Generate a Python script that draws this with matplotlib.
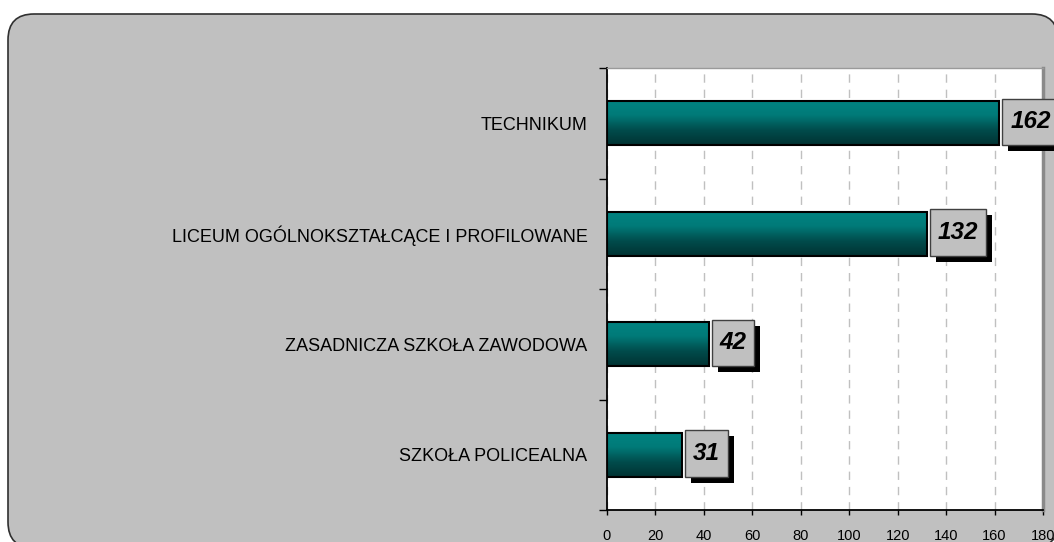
import matplotlib
matplotlib.use("Agg")
import matplotlib.pyplot as plt
import matplotlib.patheffects as pe
import numpy as np
from matplotlib.patches import FancyBboxPatch
from matplotlib.path import Path
from matplotlib.colors import LinearSegmentedColormap

plt.rcParams['font.family'] = ['Liberation Sans', 'DejaVu Sans']

# data (top to bottom as in the chart)
schools = ["TECHNIKUM",
           "LICEUM OGÓLNOKSZTAŁCĄCE I PROFILOWANE",
           "ZASADNICZA SZKOŁA ZAWODOWA",
           "SZKOŁA POLICEALNA"]
counts = [162, 132, 42, 31]
x_ticks = list(range(0, 181, 20))


def label_box(x0, y0, width, height, mutation_size):
    # plain rectangle, wider vertical padding than horizontal
    px = 0.32 * mutation_size
    py = 0.48 * mutation_size
    x0, y0 = x0 - px, y0 - py
    x1, y1 = x0 + width + 2 * px, y0 + height + 2 * py
    return Path([(x0, y0), (x1, y0), (x1, y1), (x0, y1), (x0, y0)],
                closed=True)


fig = plt.figure(figsize=(10.54, 5.42), dpi=100)
fig.patch.set_facecolor("white")

# rounded grey panel behind the chart
panel = FancyBboxPatch((0.08, -0.06), 10.50, 5.34,
                       boxstyle="round,pad=0,rounding_size=0.26",
                       transform=fig.dpi_scale_trans,
                       facecolor="#C0C0C0", edgecolor="#303030",
                       linewidth=1.2, zorder=-10)
fig.add_artist(panel)

ax = fig.add_axes([0.5759, 0.0590, 0.4137, 0.8155])
ax.set_facecolor("white")

ypos = np.arange(len(schools))[::-1]
bars = ax.barh(ypos, counts, height=0.4, facecolor="none",
               edgecolor="black", linewidth=1.5, zorder=4)

# vertical gradient in every bar
teal = LinearSegmentedColormap.from_list(
    "teal", ["#008482", "#007a78", "#004c4c", "#003333"])
grad = np.linspace(0, 1, 64).reshape(-1, 1)
for b in bars:
    x0, y0 = b.get_x(), b.get_y()
    im = ax.imshow(grad, cmap=teal, aspect="auto", origin="upper",
                   extent=[x0, x0 + b.get_width(), y0, y0 + b.get_height()],
                   zorder=3, interpolation="bilinear")
    im.set_clip_path(b)

# value boxes with black drop shadow
for y, v in zip(ypos, counts):
    t = ax.annotate(str(v), xy=(v, y), xytext=(7.8, 1),
                    textcoords="offset points", ha="left", va="center",
                    fontsize=17.5, fontweight="bold", fontstyle="italic",
                    color="black", zorder=6, annotation_clip=False,
                    bbox=dict(boxstyle=label_box, facecolor="#C0C0C0",
                              edgecolor="#404040", linewidth=1.0))
    t.get_bbox_patch().set_path_effects(
        [pe.SimplePatchShadow(offset=(4.3, -4.3), shadow_rgbFace="black",
                              alpha=1.0),
         pe.Normal()])

ax.set_xlim(0, 180)
ax.set_ylim(-0.5, len(schools) - 0.5)

ax.set_xticks(x_ticks)
ax.set_xticklabels([str(v) for v in x_ticks], fontsize=10.5)
ax.tick_params(axis="x", direction="out", length=3.5, width=1.0, pad=10)

ax.set_yticks(np.arange(-0.5, len(schools), 1.0))
ax.set_yticklabels([])
ax.tick_params(axis="y", which="major", direction="out", length=5.5,
               width=1.0)
ax.set_yticks(ypos, minor=True)
ax.set_yticklabels(schools, minor=True, fontsize=13)
ax.tick_params(axis="y", which="minor", length=0, pad=14)

ax.grid(axis="x", color="#C0C0C0", linestyle=(0, (6, 5)), linewidth=1.0,
        zorder=1)
ax.set_axisbelow(True)

ax.spines["left"].set_color("black")
ax.spines["left"].set_linewidth(1.3)
ax.spines["bottom"].set_color("black")
ax.spines["bottom"].set_linewidth(1.3)
ax.spines["top"].set_color("#9a9a9a")
ax.spines["top"].set_linewidth(1.0)
ax.spines["right"].set_color("#8a8a8a")
ax.spines["right"].set_linewidth(2.5)

fig.savefig("out.png", dpi=100)
